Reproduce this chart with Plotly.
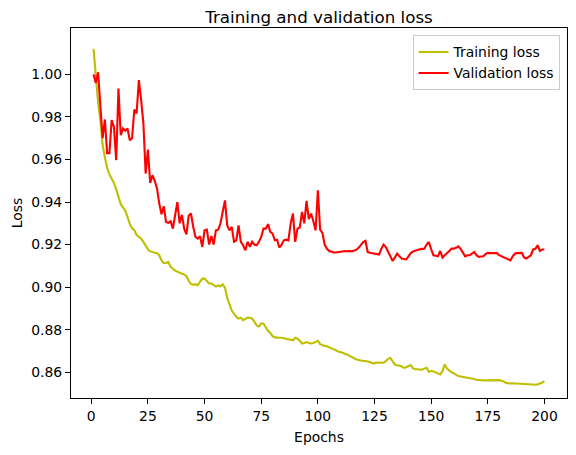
import plotly.graph_objects as go

epochs = list(range(1, 201))

training_loss = [
    1.012, 0.999, 0.987, 0.9785, 0.967, 0.961, 0.956, 0.953, 0.951, 0.949,
    0.946, 0.9424, 0.939, 0.9375, 0.936, 0.933, 0.9297, 0.9277, 0.9268, 0.9245,
    0.9236, 0.9228, 0.9213, 0.9193, 0.9178, 0.9168, 0.9164, 0.9162, 0.916, 0.915,
    0.9125, 0.9113, 0.9115, 0.9118, 0.9096, 0.9085, 0.9078, 0.9073, 0.9066, 0.9063,
    0.906, 0.9052, 0.903, 0.9014, 0.9012, 0.9013, 0.901, 0.9025, 0.904, 0.904,
    0.903, 0.9017, 0.9017, 0.9008, 0.9003, 0.9008, 0.9004, 0.9013, 0.8998, 0.8948,
    0.8915, 0.889, 0.8875, 0.886, 0.8852, 0.8856, 0.8845, 0.8852, 0.8857, 0.8856,
    0.8852, 0.8838, 0.882, 0.8815, 0.883, 0.8828, 0.8808, 0.8795, 0.8785, 0.877,
    0.8764, 0.8762, 0.8762, 0.8762, 0.8759, 0.8756, 0.8754, 0.8752, 0.875, 0.8762,
    0.8758, 0.8748, 0.8735, 0.8738, 0.8742, 0.8738, 0.8735, 0.8737, 0.8742, 0.8748,
    0.8732, 0.8727, 0.8724, 0.8722, 0.8718, 0.8713, 0.871, 0.8703, 0.8697, 0.8695,
    0.8692, 0.8686, 0.8684, 0.8677, 0.8671, 0.8666, 0.866, 0.8658, 0.8654, 0.8653,
    0.8653, 0.8651, 0.8648, 0.8643, 0.8642, 0.8646, 0.8645, 0.8644, 0.8645, 0.8652,
    0.8663, 0.8667, 0.8648, 0.8636, 0.8632, 0.8632, 0.8627, 0.8621, 0.8624, 0.8628,
    0.8634, 0.8618, 0.8614, 0.8614, 0.8614, 0.8612, 0.8617, 0.8621, 0.8602, 0.8607,
    0.8604, 0.86, 0.8593, 0.859, 0.8605, 0.8637, 0.8617, 0.8608, 0.86, 0.8595,
    0.8587, 0.8582, 0.858, 0.8578, 0.8577, 0.8577, 0.8575, 0.857, 0.8568, 0.8565,
    0.8563, 0.8562, 0.8562, 0.8562, 0.8562, 0.8562, 0.8562, 0.8563, 0.8564, 0.8563,
    0.856, 0.8557, 0.855, 0.8547, 0.8547, 0.8548, 0.8547, 0.8546, 0.8545, 0.8546,
    0.8545, 0.8543, 0.8542, 0.8541, 0.854, 0.8541, 0.8543, 0.8546, 0.8552, 0.8558,
]

validation_loss = [
    1.000, 0.996, 1.001, 0.9864, 0.970, 0.9788, 0.963, 0.963, 0.9785, 0.9753,
    0.9597, 0.9934, 0.9714, 0.9746, 0.9735, 0.9746, 0.969, 0.970, 0.9835, 0.9816,
    0.9973, 0.988, 0.977, 0.9534, 0.9647, 0.949, 0.9526, 0.950, 0.9464, 0.9393,
    0.9343, 0.938, 0.9306, 0.9302, 0.931, 0.9275, 0.9346, 0.940, 0.930, 0.934,
    0.9275, 0.9248, 0.9336, 0.9346, 0.9283, 0.9236, 0.9228, 0.9239, 0.9189, 0.9267,
    0.927, 0.920, 0.924, 0.920, 0.9267, 0.927, 0.9299, 0.9353, 0.9408, 0.929,
    0.9267, 0.9283, 0.9213, 0.922, 0.929, 0.9213, 0.9197, 0.9173, 0.9213, 0.919,
    0.9213, 0.920, 0.9197, 0.9213, 0.9236, 0.9275, 0.9275, 0.9296, 0.926, 0.9252,
    0.922, 0.9223, 0.9186, 0.920, 0.922, 0.9223, 0.922, 0.930, 0.9346, 0.9213,
    0.9275, 0.928, 0.9354, 0.930, 0.9405, 0.932, 0.9346, 0.931, 0.9267, 0.9455,
    0.927, 0.9255, 0.920, 0.918, 0.917, 0.9167, 0.9163, 0.9163, 0.9165, 0.9168,
    0.9168, 0.917, 0.9168, 0.917, 0.9168, 0.9172, 0.9176, 0.9185, 0.920, 0.9212,
    0.9218, 0.9165, 0.9162, 0.916, 0.9158, 0.9155, 0.9153, 0.918, 0.920, 0.9188,
    0.9165, 0.915, 0.9123, 0.914, 0.9158, 0.9145, 0.9134, 0.9132, 0.9131, 0.9145,
    0.916, 0.9168, 0.9172, 0.9175, 0.9178, 0.918, 0.9181, 0.920, 0.9212, 0.9178,
    0.915, 0.9148, 0.9145, 0.917, 0.9139, 0.915, 0.9158, 0.917, 0.9181, 0.9181,
    0.9185, 0.9192, 0.918, 0.916, 0.9145, 0.915, 0.915, 0.9158, 0.9165, 0.915,
    0.9142, 0.9144, 0.9145, 0.9155, 0.9161, 0.916, 0.916, 0.9161, 0.916, 0.915,
    0.9145, 0.914, 0.9135, 0.913, 0.9126, 0.9145, 0.9158, 0.916, 0.916, 0.9161,
    0.914, 0.9135, 0.9142, 0.915, 0.9177, 0.918, 0.9197, 0.917, 0.9177, 0.9177,
]

x_ticks = [0, 25, 50, 75, 100, 125, 150, 175, 200]
y_ticks = [0.86, 0.88, 0.90, 0.92, 0.94, 0.96, 0.98, 1.00]

FONT = "DejaVu Sans"

fig = go.Figure()
fig.add_trace(go.Scatter(x=epochs, y=training_loss, mode="lines", name="Training loss",
                         line=dict(color="#bfbf00", width=2.1)))
fig.add_trace(go.Scatter(x=epochs, y=validation_loss, mode="lines", name="Validation loss",
                         line=dict(color="#ff0000", width=2.1)))

axis_common = dict(showgrid=False, zeroline=False, showline=True, mirror=True,
                   linecolor="black", linewidth=1.1, ticks="outside", ticklen=5,
                   tickwidth=1.1, tickcolor="black",
                   tickfont=dict(family=FONT, size=13.9, color="black"))

fig.update_layout(
    width=576, height=455,
    margin=dict(l=71, r=9, t=28, b=57),
    paper_bgcolor="white", plot_bgcolor="white",
    font=dict(family=FONT, color="black"),
    title=dict(text="Training and validation loss", x=0.5, xref="paper",
               y=1 - 17 / 455, yanchor="middle",
               font=dict(family=FONT, size=16.7, color="black")),
    xaxis=dict(range=[-8.95, 209.95], tickvals=x_ticks,
               title=dict(text="Epochs", font=dict(family=FONT, size=13.9), standoff=9),
               **axis_common),
    yaxis=dict(range=[0.8479, 1.0218], tickvals=y_ticks, tickformat=".2f",
               title=dict(text="Loss", font=dict(family=FONT, size=13.9), standoff=5),
               **axis_common),
    legend=dict(x=0.985, y=0.98, xanchor="right", yanchor="top",
                bgcolor="rgba(255,255,255,0.8)", bordercolor="#cccccc", borderwidth=1,
                font=dict(family=FONT, size=13.9, color="black"), itemwidth=30,
                tracegroupgap=0),
    showlegend=True,
)

fig.write_html("out.html", config={"displayModeBar": False},
               post_script="document.body.style.margin='0';document.body.style.overflow='hidden';")
